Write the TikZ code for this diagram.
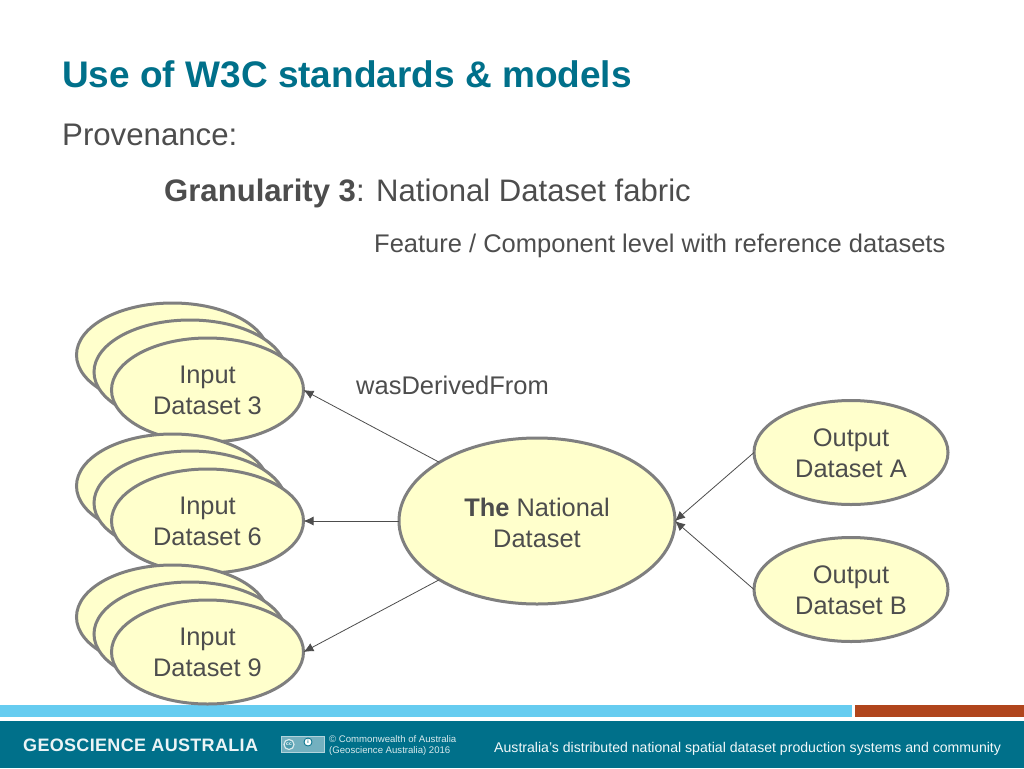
\documentclass[tikz,border=0pt]{standalone}
\usepackage{fontspec}
\setmainfont{Liberation Sans}
\usetikzlibrary{shapes.geometric,arrows.meta}
\definecolor{teal1}{HTML}{00708A}
\definecolor{txt}{HTML}{4D4D4D}
\definecolor{fillY}{HTML}{FFFFCC}
\definecolor{edge}{HTML}{7F7F7F}
\definecolor{band}{HTML}{66CCF0}
\definecolor{rust}{HTML}{B0451C}
\newcommand{\fl}[2]{\fontsize{#1}{#2}\selectfont}
\tikzset{
 x=1pt,y=-1pt,
 ell/.style={ellipse,draw=edge,line width=3pt,fill=fillY,inner sep=0pt,outer sep=0pt,text=txt,align=center,font=\fl{25.4}{31}},
 small/.style={ell,minimum width=192pt,minimum height=104pt},
 conn/.style={draw=txt,line width=0.8pt,-{Latex[length=10pt,width=9pt]}},
 lbl/.style={anchor=base west,inner sep=0pt,text=txt},
}
\begin{document}
\begin{tikzpicture}
\useasboundingbox (0,0) rectangle (1024,768);
\fill[white] (0,0) rectangle (1024,768);
% footer
\fill[band] (0,705) rectangle (852,717);
\fill[rust] (855,705) rectangle (1024,717);
\fill[teal1] (0,721) rectangle (1024,768);
% titles
\node[lbl,text=teal1,font=\fl{37}{40}\bfseries] (title) at (62,87) {Use of W3C standards \& models};
\node[lbl,font=\fl{31.2}{34}] (prov) at (62,145) {Provenance:};
\node[lbl,font=\fl{31.1}{34}] (gran) at (164,201) {\textbf{Granularity 3}: National Dataset fabric};
\node[lbl,font=\fl{25.5}{30}] (feat) at (374,252) {Feature / Component level with reference datasets};
\node[lbl,font=\fl{25.5}{30}] (was) at (356,394) {wasDerivedFrom};
% input stacks
\node[small] (a1) at (172.5,355) {};
\node[small] (a2) at (190,372) {};
\node[small] (a3) at (207.5,390) {Input\\Dataset 3};
\node[small] (b1) at (172.5,486) {};
\node[small] (b2) at (190,503) {};
\node[small] (b3) at (207.5,521) {Input\\Dataset 6};
\node[small] (c1) at (172.5,617) {};
\node[small] (c2) at (190,634) {};
\node[small] (c3) at (207.5,652) {Input\\Dataset 9};
% centre and outputs
\node[ell,minimum width=276pt,minimum height=166pt] (nat) at (537,521) {\rule{0pt}{21.5pt}\textbf{The} National\\Dataset};
\node[small,minimum width=194pt] (oa) at (851,452.5) {\rule{0pt}{18.5pt}Output\\Dataset A};
\node[small,minimum width=194pt] (ob) at (851,589.5) {\rule{0pt}{18.5pt}Output\\Dataset B};
% connectors
\draw[conn] (nat.149) -- (a3.east);
\draw[conn] (nat.west) -- (b3.east);
\draw[conn] (nat.211) -- (c3.east);
\draw[conn] (oa.west) -- (nat.east);
\draw[conn] (ob.west) -- (nat.east);
% footer text
\node[lbl,text=white!92!teal1,font=\fl{18}{20}\bfseries\addfontfeature{LetterSpace=1.8}] (ga) at (23,751) {GEOSCIENCE AUSTRALIA};
\node[draw=white!70!teal1,fill=white!45!teal1,line width=0.7pt,minimum width=43pt,minimum height=16pt,inner sep=0pt] (cc) at (303,744.5) {};
\node[circle,draw=white!85!teal1,fill=white!30!teal1,line width=1.2pt,minimum size=10pt,inner sep=0pt,text=white,font=\fl{5}{5}\bfseries] (cc1) at (289,744.5) {cc};
\node[circle,draw=teal1,fill=white,line width=0.8pt,minimum size=8pt,inner sep=0pt,text=teal1,font=\fl{5}{5}\bfseries] (cc2) at (308,742) {i};
\node[lbl,text=white!85!teal1,font=\fl{9.6}{10.5},align=left,anchor=north west] (cw) at (329,735.5) {© Commonwealth of Australia\\(Geoscience Australia) 2016};
\node[lbl,text=white!95!teal1,font=\fl{14.1}{16}] (foot) at (494,752) {Australia's distributed national spatial dataset production systems and community};
\end{tikzpicture}
\end{document}
